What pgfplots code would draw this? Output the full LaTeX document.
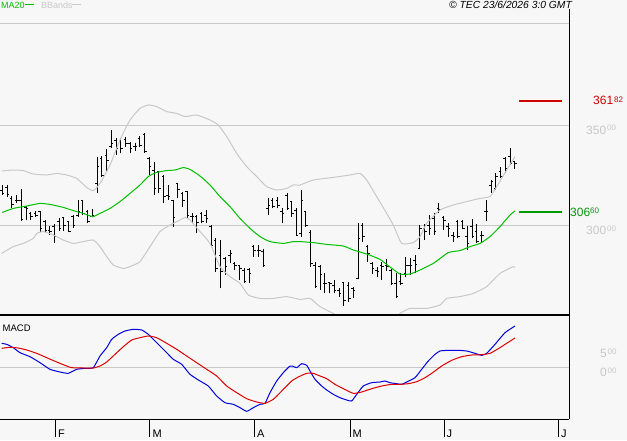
\documentclass[border=0pt]{standalone}
\usepackage{pgfplots}
\pgfplotsset{compat=1.18}
\usepackage{pgfplotstable}
\usepackage{fontspec}
\setmainfont{Liberation Sans}
\definecolor{bgc}{HTML}{F7F7F7}
\definecolor{gridc}{HTML}{C8C8C8}
\definecolor{bandc}{HTML}{C8C8C8}
\definecolor{mac}{HTML}{00C000}
\definecolor{lvlg}{HTML}{009900}
\definecolor{lvlr}{HTML}{D00000}
\definecolor{macdb}{HTML}{0000DC}
\definecolor{macdr}{HTML}{DC0000}

\pgfplotstableread{
i O H L C
0 317.5 320.0 315.0 315.8
1 318.8 320.0 314.2 315.3
2 313.3 314.7 308.3 310.5
3 312.5 315.0 310.8 312.5
4 312.5 317.8 302.2 302.8
5 308.8 309.5 302.5 308.3
6 305.8 306.7 302.5 304.2
7 305.8 307.0 304.2 305.0
8 306.7 307.0 296.7 298.3
9 301.7 302.5 296.7 297.5
10 297.5 299.5 295.0 296.7
11 299.2 300.5 291.2 294.2
12 301.7 303.3 297.2 298.3
13 303.8 304.2 297.2 300.0
14 301.7 302.2 296.3 297.0
15 304.2 305.0 298.3 300.0
16 305.0 312.5 304.2 306.7
17 312.5 312.5 305.0 305.8
18 306.7 307.5 300.8 301.7
19 304.2 307.8 303.8 305.0
20 320.8 334.2 316.2 329.2
21 333.3 334.5 324.2 325.0
22 335.0 337.8 326.7 332.5
23 339.5 347.5 338.7 340.8
24 342.5 343.3 335.0 338.3
25 341.7 343.7 335.8 338.3
26 342.8 343.8 339.2 340.8
27 340.8 341.7 335.8 338.3
28 339.2 341.2 337.2 339.2
29 343.3 344.5 339.2 340.0
30 345.3 345.8 336.2 336.7
31 333.3 334.2 325.0 329.2
32 327.5 331.7 315.0 318.3
33 326.7 327.2 315.8 318.3
34 324.2 325.0 310.8 314.2
35 315.0 320.0 312.5 314.2
36 312.5 312.5 299.2 303.8
37 320.8 321.2 313.3 317.8
38 315.8 316.7 309.2 312.5
39 316.7 317.2 303.3 305.0
40 304.2 306.2 300.8 304.2
41 304.2 305.0 295.8 301.2
42 305.8 306.7 300.8 301.7
43 305.0 307.5 301.2 303.3
44 299.5 300.0 290.0 290.0
45 292.5 293.3 276.7 278.3
46 285.0 292.5 268.3 276.7
47 283.3 283.8 275.0 279.2
48 285.0 287.5 280.8 285.8
49 280.8 281.3 277.5 280.0
50 280.0 280.0 272.5 278.3
51 277.5 278.3 271.2 271.7
52 277.8 278.3 270.8 275.8
53 289.2 290.0 284.2 287.5
54 287.5 290.0 284.2 287.5
55 286.7 287.8 279.2 280.0
56 308.3 313.3 305.0 310.0
57 312.5 313.3 308.3 309.2
58 312.5 314.2 308.3 310.0
59 306.7 308.3 300.8 305.8
60 315.0 315.8 307.5 308.3
61 311.7 312.0 304.2 305.8
62 307.5 308.3 295.0 295.0
63 295.8 317.5 294.2 312.5
64 306.7 306.7 299.2 300.0
65 296.2 297.5 279.2 280.8
66 280.0 281.7 268.3 269.2
67 279.2 280.0 267.5 275.5
68 270.8 275.8 265.8 270.8
69 271.2 271.7 265.8 270.8
70 270.0 272.5 265.8 267.5
71 267.5 268.3 264.2 265.8
72 271.2 271.2 259.5 262.5
73 270.0 271.7 261.7 263.3
74 268.3 269.2 263.3 267.5
75 273.3 301.2 272.8 293.3
76 300.0 300.8 291.7 294.2
77 289.2 290.0 281.7 285.8
78 280.8 281.7 275.5 278.3
79 277.5 279.2 274.2 276.7
80 280.0 281.7 272.5 279.2
81 280.0 282.8 277.2 279.2
82 277.5 277.8 270.0 270.8
83 270.8 275.8 263.3 264.2
84 271.7 275.8 270.0 270.8
85 275.8 284.2 274.2 280.0
86 280.0 283.3 275.0 280.0
87 282.5 285.0 275.8 280.5
88 288.3 300.0 287.8 298.3
89 298.3 300.5 292.5 296.7
90 300.0 305.0 295.0 298.3
91 303.3 306.2 295.0 296.7
92 308.3 310.8 305.8 307.8
93 303.8 304.5 297.5 302.5
94 299.2 300.8 294.2 298.3
95 295.0 296.7 291.7 294.2
96 301.7 302.5 293.3 294.2
97 301.7 302.5 297.8 298.3
98 294.2 299.5 287.5 290.8
99 299.2 302.8 293.3 294.2
100 297.0 300.5 291.2 291.7
101 295.0 297.0 291.7 295.0
102 306.7 312.5 302.2 306.7
103 320.0 322.5 316.2 321.7
104 318.3 325.8 317.5 324.2
105 326.7 329.2 323.3 324.2
106 333.3 334.2 325.8 328.3
107 334.2 338.7 330.0 330.8
108 331.7 332.0 328.2 330.8
}\ohlc

\begin{document}
\begin{tikzpicture}[x=1pt,y=1pt]
\useasboundingbox (0,0) rectangle (627,440);
\fill[bgc] (0,0) rectangle (627,440);

% ---------------- main price panel ----------------
\begin{axis}[
  at={(0pt,125pt)}, anchor=south west,
  scale only axis, width=569pt, height=292pt,
  xmin=0, xmax=569, ymin=255, ymax=401,
  axis line style={draw=none},
  xtick=\empty, ytick={300,350}, yticklabels={},
  ytick style={draw=none},
  ymajorgrids, major grid style={gridc, line width=1pt},
  clip=true,
  barstyle/.style={draw=none, mark=none, forget plot},
]
% bars: high-low
\addplot[barstyle,
  error bars/.cd, y dir=plus, y explicit, error mark=none,
  error bar style={draw=black, line width=1pt, solid}]
  table[x expr={2.3+4.745*\thisrow{i}}, y=L, y error expr={\thisrow{H}-\thisrow{L}}] {\ohlc};
% open ticks
\addplot[barstyle,
  error bars/.cd, x dir=minus, x explicit, error mark=none,
  error bar style={draw=black, line width=1pt, solid}]
  table[x expr={2.3+4.745*\thisrow{i}}, y=O, x error expr={2}] {\ohlc};
% close ticks
\addplot[barstyle,
  error bars/.cd, x dir=plus, x explicit, error mark=none,
  error bar style={draw=black, line width=1pt, solid}]
  table[x expr={2.3+4.745*\thisrow{i}}, y=C, x error expr={2}] {\ohlc};

% Bollinger upper
\addplot[bandc, line width=1pt, smooth, tension=0.3] coordinates {
(1.7,327) (13.3,327.5) (23.3,327.2) (33.3,325.5) (46.7,325) (56.7,325.8) (66.7,325) (76.7,323.3) (86.7,318.8) (93.3,317.2) (100,320.8) (110,330) (120,342.5) (130,352.5) (140,358.3) (148.3,360) (156.7,359.2) (166.7,356.7) (176.7,355.8) (185,354.2) (196.7,355) (210,352.5) (218.3,350) (226.7,344.2) (236.7,335.8) (246.7,329.2) (256.7,324.2) (266.7,319.2) (276.7,317.5) (286.7,318.3) (293.3,320) (300,320) (313.3,322.5) (333.3,323.8) (350,325) (360,325.8) (366.7,322.5) (376.7,314.2) (386.7,305.8) (393.3,300) (401.7,290.8) (413.3,291.2) (420,294.2) (426.7,300.8) (440,307.5) (453.3,310) (466.7,311.7) (480,313.3) (490,314.2) (496.7,319.2) (506.7,327.5) (515,334.2)};
% Bollinger lower
\addplot[bandc, line width=1pt, smooth, tension=0.3] coordinates {
(1.7,285.8) (13.3,289.2) (23.3,290.8) (33.3,293.3) (36.7,295.8) (43.3,296.7) (53.3,295) (63.3,292.5) (73.3,290.8) (83.3,291.7) (93.3,292.5) (100,289.2) (106.7,284.2) (113.3,280) (123.3,278.3) (130,279.2) (140,281.7) (150,289.2) (160,296.7) (170,300) (180,302.5) (185,303.8) (190,302.5) (200,296.7) (210,290.8) (220,279.2) (230,274.2) (240,270.8) (248.3,265) (260,263.3) (273.3,263.3) (286.7,264.2) (300,262.8) (310,263.3) (320,259.2) (333.3,255.8) (343.3,252.5) (366.7,247.5) (393.3,252.5) (400,255.8) (410,258.3) (426.7,258.3) (440,260) (446.7,263.3) (460,264.2) (473.3,265.8) (486.7,269.2) (500,275.8) (513.3,279.2) (515,278.8)};
% MA20
\addplot[mac, line width=1pt, smooth, tension=0.3] coordinates {
(2.3,306.3) (13.3,308.3) (26.7,309.5) (40,310.8) (50,310.3) (63.3,308.8) (73.3,307.2) (83.3,305.8) (92.7,304.2) (100,305.8) (110,308.3) (120,311.7) (130,315.8) (140,320.0) (148.3,324.2) (156.7,326.3) (166.7,327.2) (175,327.5) (183.3,328.7) (190,327.8) (200,324.5) (210,320.0) (220,314.2) (230,309.2) (240,303.3) (250,298.3) (260,294.2) (270,291.7) (283.3,290.8) (293.3,291.7) (300,291.7) (313.3,291.2) (326.7,290.3) (343.3,289.5) (353.3,287.5) (366.7,285.5) (380,282.8) (390,279.0) (400,275.5) (410,275.5) (420,277.5) (433.3,280.8) (448.3,286.2) (460,287.2) (470,289.2) (480,290.8) (490,294.2) (500,299.2) (510,305) (515,307)};
% level lines
\addplot[lvlr, line width=2pt] coordinates {(519,361.82) (562,361.82)};
\addplot[lvlg, line width=2pt] coordinates {(519,306.6) (562,306.6)};
% frame
\draw[gridc, line width=1pt] (rel axis cs:0,1) -- (rel axis cs:1,1);
\draw[black, line width=2pt] (rel axis cs:0,0) -- (rel axis cs:1,0);
\end{axis}

% ---------------- MACD panel ----------------
\begin{axis}[
  at={(0pt,21pt)}, anchor=south west,
  scale only axis, width=569pt, height=104pt,
  xmin=0, xmax=569, ymin=-13, ymax=13,
  axis line style={draw=none},
  xtick={55.2,149.6,254.4,350,444,558.8}, xticklabels={},
  xtick pos=bottom, tick align=outside, major tick length=18pt,
  xtick style={black, line width=1pt},
  ytick={0}, yticklabels={}, ytick style={draw=none},
  ymajorgrids, major grid style={gridc, line width=1pt},
  clip=true,
]
\addplot[macdb, line width=1pt, smooth, tension=0.3] coordinates {
(1.7,5.92) (6.7,5.67) (13.3,4.83) (20,3.58) (30,2.58) (40,1.08) (50,-0.58) (60,-1.25) (68.3,-1.58) (76.7,-0.58) (85,-0.33) (93.3,-0.17) (100,2.75) (106.7,4.83) (111.7,6.92) (118.3,8.17) (125,9.0) (133.3,9.42) (141.7,9.25) (148.3,8.17) (153.3,6.92) (160,5.25) (166.7,3.58) (173.3,1.92) (181.7,0.67) (190,-1.83) (200,-3.5) (208.3,-4.75) (216.7,-7.25) (225,-8.92) (233.3,-9.33) (240,-10.17) (246.7,-11.08) (253.3,-10.17) (260,-9.33) (265,-9.08) (270,-6.42) (276.7,-3.5) (283.3,-1.42) (290,0.25) (292.3,0.25) (296.7,-0.17) (301.7,0.83) (306.7,0.42) (310,-1.0) (315,-3.08) (321.7,-4.75) (326.7,-5.75) (333.3,-6.83) (340,-7.67) (346.7,-8.25) (351.7,-8.5) (356.7,-6.83) (363.3,-4.75) (371.7,-3.92) (380,-3.75) (385,-3.5) (390,-3.92) (396.7,-4.17) (401.7,-4.33) (406.7,-3.75) (415,-2.67) (421.7,-0.58) (428.3,1.5) (435,3.17) (440,4.0) (448.3,4.17) (458.3,4.17) (466.7,4.0) (475,3.42) (481.7,2.92) (486.7,3.42) (495,5.67) (505,8.58) (515,10.25)};
\addplot[macdr, line width=1pt, smooth, tension=0.3] coordinates {
(1.7,4.67) (10,4.92) (18.3,4.75) (26.7,4.25) (36.7,3.42) (46.7,2.33) (56.7,1.25) (66.7,0.25) (71.7,-0.17) (83.3,-0.25) (93.3,-0.25) (100,0.25) (106.7,1.25) (115,3.17) (123.3,5.08) (131.7,6.75) (140,7.33) (148.3,7.75) (156.7,7.33) (166.7,5.92) (176.7,4.42) (186.7,2.75) (196.7,1.08) (206.7,-0.58) (216.7,-2.25) (226.7,-4.75) (236.7,-6.42) (246.7,-7.92) (256.7,-8.75) (265,-9.08) (273.3,-8.08) (281.7,-6.0) (291.7,-3.5) (298.3,-2.5) (306.7,-1.58) (313.3,-1.58) (318.3,-2.08) (326.7,-2.92) (335,-4.33) (343.3,-5.42) (353.3,-6.58) (361.7,-6.25) (371.7,-5.42) (381.7,-4.75) (391.7,-4.33) (400,-4.33) (408.3,-4.17) (416.7,-3.67) (425,-2.67) (431.7,-1.58) (441.7,0.25) (451.7,1.67) (461.7,2.58) (471.7,3.0) (481.7,3.08) (490,3.42) (498.3,4.58) (506.7,5.92) (515,7.25)};
\draw[black, line width=1pt] (rel axis cs:0,0) -- (rel axis cs:1,0);
\end{axis}

% right frame line
\draw[black, line width=1pt] (569,21) -- (569,431);

% ---------------- texts ----------------
\begin{scope}[every node/.style={inner sep=0pt, anchor=base west}]
\node[mac, font=\fontsize{9}{9}\selectfont] at (1,431.5) {MA20};
\draw[mac, line width=1pt] (25,435.3) -- (34,435.3);
\node[gridc, font=\fontsize{9}{9}\selectfont] at (41,431.5) {BBands};
\draw[gridc, line width=1pt] (72,435.3) -- (81,435.3);
\node[black, font=\fontsize{10.3}{10}\selectfont\itshape] at (449,431.3) {© TEC 23/6/2026 3:0 GMT};
\node[black, font=\fontsize{9.5}{9}\selectfont] at (2.5,109) {MACD};
% month labels
\foreach \xx/\ll in {58/F,152.5/M,257/A,352.5/M,446.5/J,561/J}
  \node[black, font=\fontsize{11}{11}\selectfont] at (\xx,2.3) {\ll};
% right price labels
\node[lvlr, font=\fontsize{12}{12}\selectfont] at (593,335.2) {361};
\node[lvlr, font=\fontsize{8}{8}\selectfont] at (614,337.3) {82};
\node[gridc, font=\fontsize{12}{12}\selectfont] at (586,305.7) {350};
\node[gridc, font=\fontsize{8}{8}\selectfont] at (607,309) {00};
\node[lvlg, font=\fontsize{12}{12}\selectfont] at (570,224) {306};
\node[lvlg, font=\fontsize{8}{8}\selectfont] at (590,226) {60};
\node[gridc, font=\fontsize{12}{12}\selectfont] at (586,205.7) {300};
\node[gridc, font=\fontsize{8}{8}\selectfont] at (607,208) {00};
\node[gridc, font=\fontsize{12}{12}\selectfont] at (600,82.7) {5};
\node[gridc, font=\fontsize{8}{8}\selectfont] at (607.5,85.3) {00};
\node[gridc, font=\fontsize{12}{12}\selectfont] at (600,63.3) {0};
\node[gridc, font=\fontsize{8}{8}\selectfont] at (607.5,66.3) {00};
\end{scope}
\end{tikzpicture}
\end{document}
